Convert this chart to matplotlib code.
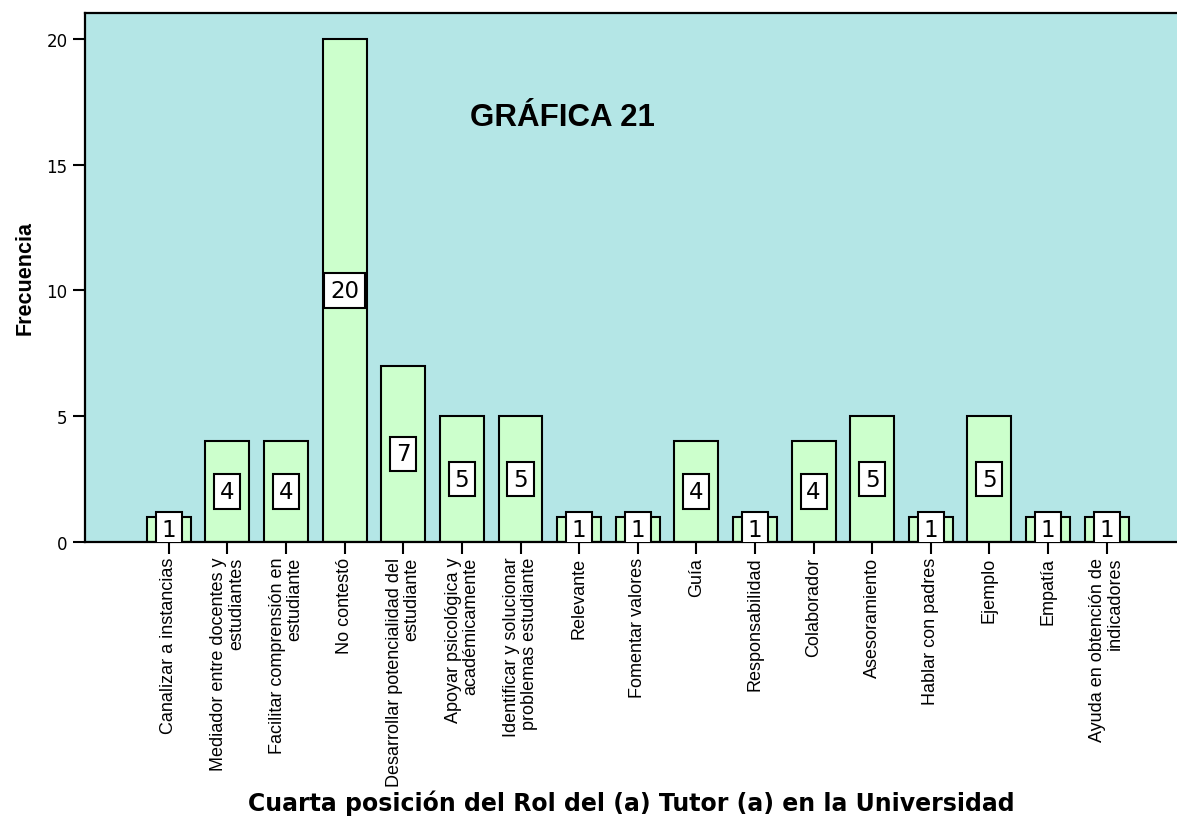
import matplotlib
matplotlib.use("Agg")
import matplotlib.pyplot as plt
from matplotlib import font_manager

categories = [
    "Canalizar a instancias",
    "Mediador entre docentes y\nestudiantes",
    "Facilitar comprensión en\nestudiante",
    "No contestó",
    "Desarrollar potencialidad del\nestudiante",
    "Apoyar psicológica y\nacadémicamente",
    "Identificar y solucionar\nproblemas estudiante",
    "Relevante",
    "Fomentar valores",
    "Guía",
    "Responsabilidad",
    "Colaborador",
    "Asesoramiento",
    "Hablar con padres",
    "Ejemplo",
    "Empatía",
    "Ayuda en obtención de\nindicadores",
]
frecuencia = [1, 4, 4, 20, 7, 5, 5, 1, 1, 4, 1, 4, 5, 1, 5, 1, 1]
yticks = [0, 5, 10, 15, 20]

names = {f.name for f in font_manager.fontManager.ttflist}
narrow = "Liberation Sans Narrow" in names
if narrow:
    tick_family = ["Liberation Sans Narrow", "DejaVu Sans"]
    tick_size = 16
    ylab_size = 18.5
else:
    tick_family = ["Liberation Sans", "DejaVu Sans"]
    tick_size = 13
    ylab_size = 15.5

BG = "#B4E6E6"
BAR = "#CCFFCC"

fig = plt.figure(figsize=(11.77, 8.20), dpi=100)
ax = fig.add_axes([85 / 1177, 1 - 543 / 820, 1092 / 1177, 529 / 820])
ax.set_facecolor(BG)

x = list(range(len(categories)))
ax.bar(x, frecuencia, width=0.75, color=BAR, edgecolor="black", linewidth=1.5, zorder=2)

for xi, v in zip(x, frecuencia):
    ax.text(xi, v / 2, str(v), ha="center", va="center", fontsize=16.5,
            family="DejaVu Sans", color="black", zorder=3, clip_on=True,
            bbox=dict(boxstyle="square,pad=0.25", facecolor="white",
                      edgecolor="black", linewidth=1.5))

ax.set_xlim(-1.43, 17.2)
ax.set_ylim(0, 21.03)
ax.set_xticks(x)
ax.set_xticklabels(categories, rotation=90, ha="center", va="top",
                   multialignment="right", family=tick_family,
                   fontsize=tick_size, linespacing=1.05)
ax.set_yticks(yticks)
ax.set_yticklabels([str(t) for t in yticks], family="DejaVu Sans", fontsize=12)
ax.tick_params(axis="x", direction="out", length=8.6, width=1.5, pad=2)
ax.tick_params(axis="y", direction="out", length=8.6, width=1.5, pad=4)

for side in ["left", "top", "bottom"]:
    ax.spines[side].set_linewidth(1.6)
    ax.spines[side].set_color("black")
ax.spines["right"].set_visible(False)

ax.text(0.437, 0.803, "GRÁFICA 21", transform=ax.transAxes, ha="center",
        va="center", fontsize=22.5, fontweight="bold", family="Liberation Sans")

ax.set_ylabel("Frecuencia", fontsize=ylab_size, fontweight="bold", family=tick_family)
ax.yaxis.set_label_coords(-0.055, 0.5)
ax.yaxis.label.set_verticalalignment("center")

ax.set_xlabel("Cuarta posición del Rol del (a) Tutor (a) en la Universidad",
              fontsize=17, fontweight="bold", family="DejaVu Sans")
ax.xaxis.set_label_coords(0.5, -0.492)
ax.xaxis.label.set_verticalalignment("center")

fig.savefig("out.png", dpi=100, facecolor="white")
